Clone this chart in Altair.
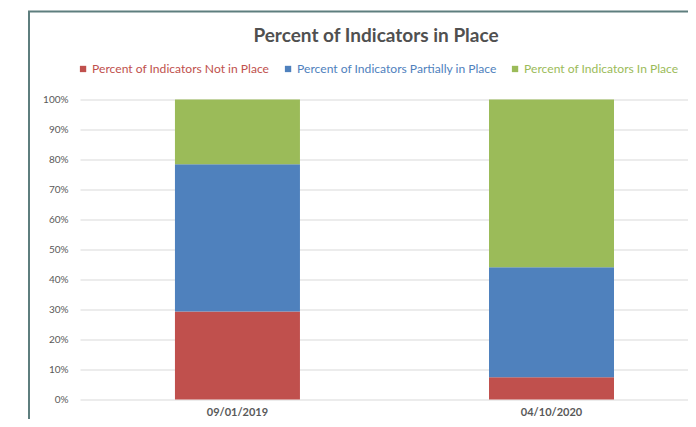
import altair as alt
import pandas as pd

dates = ["09/01/2019", "04/10/2020"]
series = [
    "Percent of Indicators Not in Place",
    "Percent of Indicators Partially in Place",
    "Percent of Indicators In Place",
]
not_in_place = [29.3, 7.4]
partially_in_place = [49.1, 36.7]
in_place = [21.6, 55.9]
colors = ["#C0504D", "#4F81BD", "#9BBB59"]
y_ticks = [0, 10, 20, 30, 40, 50, 60, 70, 80, 90, 100]

rows = []
for i, d in enumerate(dates):
    for k, (s, vals) in enumerate(zip(series, [not_in_place, partially_in_place, in_place])):
        rows.append({"date": d, "series": s, "value": vals[i], "idx": k})
df = pd.DataFrame(rows)

label_color_expr = (
    f"datum.value == '{series[0]}' ? '{colors[0]}' : "
    f"datum.value == '{series[1]}' ? '{colors[1]}' : '{colors[2]}'"
)

FONT = "Lato"

bars = alt.Chart(df).mark_bar(size=125).encode(
    x=alt.X(
        "date:N",
        sort=dates,
        title=None,
        scale=alt.Scale(paddingInner=0.602, paddingOuter=0.269, align=0.562),
        axis=alt.Axis(
            labelAngle=0, domain=False, ticks=False, labelPadding=7,
            labelFontSize=11, labelFontWeight="bold", labelColor="#595959",
            labelFont=FONT,
        ),
    ),
    y=alt.Y(
        "value:Q",
        stack="zero",
        title=None,
        scale=alt.Scale(domain=[0, 100], nice=False),
        axis=alt.Axis(
            values=y_ticks, labelExpr="datum.value + '%'", domain=False, ticks=False,
            labelPadding=12, labelFontSize=10, labelColor="#595959", labelFont=FONT,
            gridColor="#D9D9D9", gridWidth=1,
        ),
    ),
    color=alt.Color(
        "series:N",
        scale=alt.Scale(domain=series, range=colors),
        legend=alt.Legend(
            title=None, orient="none", direction="horizontal",
            legendX=-3, legendY=-37,
            symbolType="square", symbolSize=40, symbolStrokeWidth=0,
            labelFontSize=12.1, labelFont=FONT, labelOffset=3, labelLimit=0,
            columnPadding=12,
            labelColor=alt.ExprRef(label_color_expr),
        ),
    ),
    order=alt.Order("idx:Q", sort="ascending"),
)

frame_df = pd.DataFrame({"a": [0]})
frame = alt.Chart(frame_df).mark_rect(
    fillOpacity=0, stroke="#5E7E7E", strokeWidth=2
).encode(
    x=alt.value(-51), x2=alt.value(700), y=alt.value(-88), y2=alt.value(400)
)

chart = alt.layer(frame, bars).properties(
    width=608,
    height=300,
    padding={"left": 72, "top": 91.5, "right": 0, "bottom": 19.5},
    autosize=alt.AutoSizeParams(type="none"),
    title=alt.Title(
        "Percent of Indicators in Place",
        fontSize=19, fontWeight="bold", color="#505050", font=FONT,
        anchor="middle", frame="group", dx=-8, offset=0, dy=35,
    ),
).configure_view(stroke=None)

chart.save("out.html", embed_options={"renderer": "svg", "actions": False})
